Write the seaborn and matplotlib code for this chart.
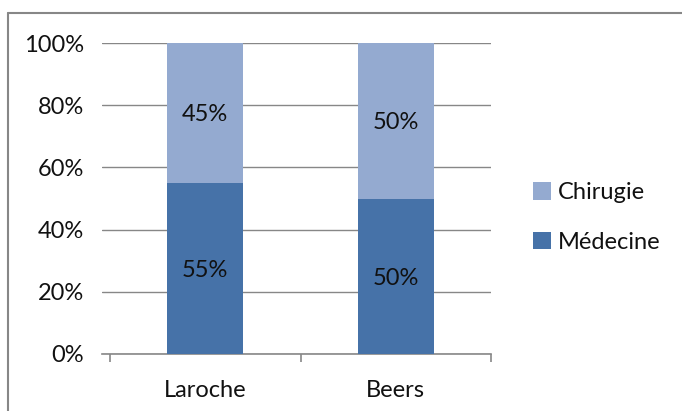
import matplotlib as mpl
mpl.use('Agg')

import matplotlib.pyplot as plt
from matplotlib.lines import Line2D
from matplotlib.patches import Patch
from matplotlib.ticker import FuncFormatter, FixedLocator
import pandas as pd
import seaborn as sns

# data
categories = ['Laroche', 'Beers']
medecine = [55, 50]
chirugie = [45, 50]
series_names = ['Chirugie', 'Médecine']
y_ticks = [0, 20, 40, 60, 80, 100]

dark_blue = '#4672A8'
light_blue = '#94AAD0'
grey = '#878787'
FS = 17


def main():
    sns.set_style('white')
    plt.rcParams['font.family'] = ['Lato', 'DejaVu Sans']

    df = pd.DataFrame({'cat': categories, 'med': medecine, 'chir': chirugie})
    df['total'] = df['med'] + df['chir']

    fig = plt.figure(figsize=(6.82, 4.11), dpi=100)
    ax = fig.add_axes([102 / 682, 1 - 354 / 411, (491 - 102) / 682, (354 - 43) / 411])

    # stacked bars: full height first, then the lower segment on top
    sns.barplot(data=df, x='cat', y='total', color=light_blue, width=0.4,
                saturation=1, linewidth=0, ax=ax, zorder=3)
    sns.barplot(data=df, x='cat', y='med', color=dark_blue, width=0.4,
                saturation=1, linewidth=0, ax=ax, zorder=4)

    for i, row in df.iterrows():
        ax.text(i, row['med'] / 2, '{}%'.format(row['med']), ha='center',
                va='center_baseline', fontsize=FS, color='#111111', zorder=5)
        ax.text(i, row['med'] + row['chir'] / 2, '{}%'.format(row['chir']), ha='center',
                va='center_baseline', fontsize=FS, color='#111111', zorder=5)

    ax.set_xlim(-0.542, 1.5)
    ax.set_ylim(0, 100)
    ax.set_yticks(y_ticks)
    ax.yaxis.set_major_formatter(FuncFormatter(lambda v, p: '{:.0f}%'.format(v)))
    ax.grid(axis='y', color=grey, linewidth=1, zorder=0)
    ax.set_axisbelow(True)
    ax.set_xlabel('')
    ax.set_ylabel('')

    for side in ['top', 'right', 'left']:
        ax.spines[side].set_visible(False)
    ax.spines['bottom'].set_color(grey)
    ax.spines['bottom'].set_linewidth(1.2)

    ax.xaxis.set_minor_locator(FixedLocator([-0.5, 0.5, 1.5]))
    ax.tick_params(axis='x', which='minor', direction='out', length=6, width=1.2,
                   color=grey, bottom=True)
    ax.tick_params(axis='x', which='major', length=0, pad=19, labelsize=FS)
    ax.tick_params(axis='y', which='major', length=0, pad=13, labelsize=FS)
    for lab in ax.get_xticklabels() + ax.get_yticklabels():
        lab.set_color('#111111')

    handles = [Patch(facecolor=light_blue, edgecolor='none'),
               Patch(facecolor=dark_blue, edgecolor='none')]
    fig.legend(handles, series_names, loc='center left',
               bbox_to_anchor=(533 / 682, 1 - 217.5 / 411), frameon=False,
               fontsize=FS, handlelength=0.75, handleheight=0.75,
               handletextpad=0.3, labelspacing=1.2, borderpad=0, borderaxespad=0,
               labelcolor='#111111')

    # chart border (top and left edges visible in the reference)
    fig.add_artist(Line2D([8 / 682, 1], [1 - 13 / 411, 1 - 13 / 411],
                          color=grey, linewidth=1.5, transform=fig.transFigure))
    fig.add_artist(Line2D([8 / 682, 8 / 682], [0, 1 - 13 / 411],
                          color=grey, linewidth=1.5, transform=fig.transFigure))

    fig.savefig('out.png', dpi=100)


if __name__ == '__main__':
    main()
